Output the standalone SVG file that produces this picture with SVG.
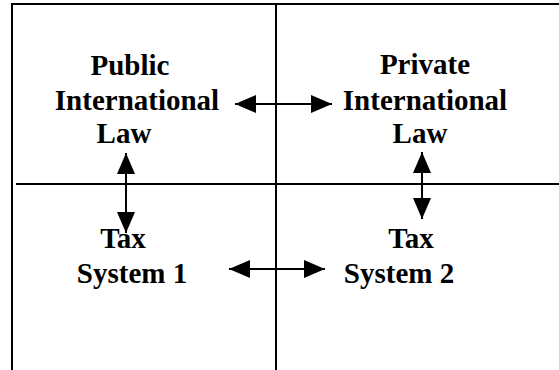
<svg xmlns="http://www.w3.org/2000/svg" width="559" height="370" viewBox="0 0 559 370">
  <style>
    .grid { stroke: #000; stroke-width: 2; fill: none; }
    .link { stroke: #000; stroke-width: 2; fill: none; marker-start: url(#head); marker-end: url(#head); }
    text { font-family: "Liberation Serif", "Times New Roman", serif; font-weight: bold; font-size: 29px; fill: #000; text-anchor: middle; }
  </style>
  <defs>
    <marker id="head" markerUnits="userSpaceOnUse" markerWidth="21" markerHeight="18" refX="21" refY="9" orient="auto-start-reverse">
      <path d="M0,0 L21,9 L0,18 z" fill="#000"/>
    </marker>
  </defs>
  <rect width="559" height="370" fill="#fff"/>

  <!-- quadrant grid -->
  <g id="grid">
    <line class="grid" x1="12" y1="4" x2="559" y2="4"/>
    <line class="grid" x1="12" y1="3" x2="12" y2="370"/>
    <line class="grid" x1="276" y1="4" x2="276" y2="370"/>
    <line class="grid" x1="16" y1="184" x2="559" y2="184"/>
  </g>

  <g id="public-law">
    <text x="130" y="75">Public</text>
    <text x="137" y="110">International</text>
    <text x="124" y="143">Law</text>
  </g>
  <g id="private-law">
    <text x="425" y="74">Private</text>
    <text x="425" y="110">International</text>
    <text x="420" y="143">Law</text>
  </g>
  <g id="tax-system-1">
    <text x="123" y="248">Tax</text>
    <text x="132" y="283">System 1</text>
  </g>
  <g id="tax-system-2">
    <text x="411" y="248">Tax</text>
    <text x="399" y="283">System 2</text>
  </g>

  <!-- two-way relations -->
  <g id="connectors">
    <line class="link" x1="235" y1="104" x2="332" y2="104"/>
    <line class="link" x1="229" y1="269" x2="325" y2="269"/>
    <line class="link" x1="126" y1="153" x2="126" y2="233"/>
    <line class="link" x1="422" y1="152" x2="422" y2="219"/>
  </g>
</svg>
